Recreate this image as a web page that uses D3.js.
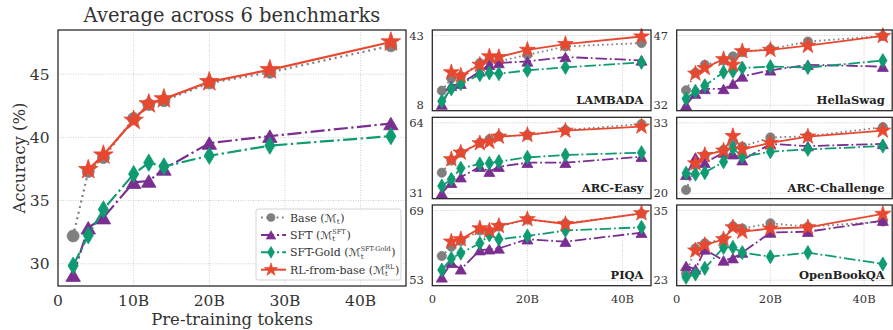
<!DOCTYPE html>
<html>
<head>
<meta charset="utf-8">
<script src="https://cdn.jsdelivr.net/npm/d3@7"></script>
<style>
  body { margin: 0; background: #fff; }
  svg { display: block; }
  text { font-family: "DejaVu Serif", serif; fill: #333; }
</style>
</head>
<body>
<svg id="chart" width="893" height="330"></svg>
<script>
// Pre-training tokens (billions) at each checkpoint
const tokens = [2, 4, 6, 10, 12, 14, 20, 28, 44];

// Average accuracy across the 6 benchmarks
const avgBase = [32.2, 37.3, 38.4, 41.5, 42.6, 42.9, 44.3, 45.15, 47.25];
const avgSft  = [29.1, 32.85, 33.65, 36.45, 36.55, 37.5, 39.55, 40.1, 41.1];
const avgGold = [29.85, 32.25, 34.3, 37.1, 38.0, 37.7, 38.55, 39.35, 40.1];
const avgRl   = [null, 37.45, 38.6, 41.35, 42.65, 43.05, 44.4, 45.35, 47.55];

// LAMBADA
const lambadaBase = [15.3, 21.5, 22.5, 29.2, 30.8, 30.0, 33.3, 37.5, 39.2];
const lambadaSft  = [8.3, 17.8, 18.8, 25.0, 28.3, 29.2, 30.0, 32.2, 30.5];
const lambadaGold = [10.0, 16.2, 18.8, 23.3, 24.2, 23.8, 25.5, 27.0, 29.5];
const lambadaRl   = [null, 24.5, 22.8, 28.3, 32.5, 32.2, 35.8, 38.7, 42.5];

// HellaSwag
const hellaBase = [35.2, 39.0, 40.7, 41.6, 42.5, 43.4, 44.1, 45.7, 46.9];
const hellaSft  = [32.0, 34.5, 35.5, 35.5, 36.6, 38.2, 39.5, 40.7, 40.3];
const hellaGold = [33.4, 35.0, 36.2, 39.1, 39.3, 40.0, 40.3, 40.1, 41.6];
const hellaRl   = [null, 38.8, 40.0, 41.9, 40.7, 43.6, 43.9, 44.8, 46.9];

// ARC-Easy
const arcEasyBase = [40.6, 46.3, 50.0, 54.7, 56.3, 57.6, 58.3, 60.6, 63.4];
const arcEasySft  = [31.0, 35.9, 38.5, 43.4, 41.1, 43.4, 45.3, 45.3, 48.1];
const arcEasyGold = [34.4, 37.5, 42.7, 44.7, 45.0, 45.8, 47.8, 48.9, 50.0];
const arcEasyRl   = [null, 46.9, 50.0, 54.4, 55.1, 57.5, 58.3, 60.3, 62.2];

// ARC-Challenge
const arcChalBase = [20.6, 25.2, 27.0, 28.0, 29.5, 28.6, 30.3, 30.5, 32.2];
const arcChalSft  = [23.4, 26.6, 25.6, 27.5, 27.2, 26.1, 29.1, 28.7, 29.1];
const arcChalGold = [23.7, 23.5, 23.8, 25.8, 28.3, 26.75, 27.65, 28.1, 28.7];
const arcChalRl   = [null, 25.5, 27.05, 27.85, 30.55, 28.1, 29.3, 30.45, 31.55];

// PIQA
const piqaBase = [58.55, 60.7, 62.0, 64.4, 64.2, 65.3, 66.9, 66.05, 68.3];
const piqaSft  = [53.65, 57.0, 55.5, 59.9, 60.1, 60.3, 62.4, 61.85, 63.9];
const piqaGold = [55.35, 58.0, 59.2, 61.5, 63.4, 62.4, 63.15, 64.4, 65.15];
const piqaRl   = [null, 61.85, 62.4, 64.9, 64.4, 65.45, 67.0, 65.9, 68.35];

// OpenBookQA
const obqaBase = [24.1, 28.5, 29.35, 30.1, 32.3, 31.9, 32.8, 32.2, 33.1];
const obqaSft  = [25.45, 24.9, 28.3, 26.4, 26.8, 27.75, 31.2, 31.35, 33.25];
const obqaGold = [23.5, 24.05, 25.05, 28.65, 28.65, 27.75, 27.05, 27.75, 25.8];
const obqaRl   = [null, 28.1, 29.05, 30.05, 32.1, 31.35, 31.9, 32.1, 34.4];

// Benchmark panels: name, y-tick labels (min / max)
const benchNames = ["LAMBADA", "HellaSwag", "ARC-Easy", "ARC-Challenge", "PIQA", "OpenBookQA"];
const benchTicks = [[8, 43], [32, 47], [31, 64], [20, 33], [53, 69], [23, 35]];
const benchSeries = [
  [lambadaBase, lambadaSft, lambadaGold, lambadaRl],
  [hellaBase, hellaSft, hellaGold, hellaRl],
  [arcEasyBase, arcEasySft, arcEasyGold, arcEasyRl],
  [arcChalBase, arcChalSft, arcChalGold, arcChalRl],
  [piqaBase, piqaSft, piqaGold, piqaRl],
  [obqaBase, obqaSft, obqaGold, obqaRl]
];

// Axis tick labels
const mainXTicks = [0, 10, 20, 30, 40];
const mainYTicks = [30, 35, 40, 45];
const smallXTicks = [0, 20, 40];

// Series styling (order: Base, SFT, SFT-Gold, RL-from-base)
const seriesKeys = ["base", "sft", "gold", "rl"];
const styles = {
  base: { color: "#7f7f7f", dash: "dot",     marker: "circle" },
  sft:  { color: "#7a2e91", dash: "dashdot", marker: "triangle" },
  gold: { color: "#0f9b72", dash: "dashdot", marker: "diamond" },
  rl:   { color: "#e8482f", dash: "solid",   marker: "star" }
};

function dashArray(kind, lw) {
  if (kind === "dot") return `${lw * 0.9},${lw * 1.7}`;
  if (kind === "dashdot") return `${lw * 6.4},${lw * 1.6},${lw * 1},${lw * 1.6}`;
  return null;
}

// Marker path centred on the origin; s = nominal radius in px
function markerPath(kind, s) {
  if (kind === "circle") return d3.symbol(d3.symbolCircle, Math.PI * s * s)();
  if (kind === "star") return d3.symbol(d3.symbolStar, (s * s) / 0.89081309152928522810)();
  if (kind === "triangle") {
    const h = s * 1.9, w = s * 1.1;
    return `M0,${-h / 2}L${w},${h / 2}L${-w},${h / 2}Z`;
  }
  if (kind === "diamond") {
    const h = s * 1.35, w = s * 0.8;
    return `M0,${-h}L${w},0L0,${h}L${-w},0Z`;
  }
}

const svg = d3.select("#chart");

// Draws one axes box with its grid, series and tick labels
function drawPanel(cfg) {
  const { x0, y0, w, h, xScale, yScale, xTicks, yTicks, xFmt, series, lw, msize, tickFont, showX } = cfg;
  const g = svg.append("g");

  // grid
  g.selectAll("line.gy").data(yTicks).join("line")
    .attr("x1", x0).attr("x2", x0 + w)
    .attr("y1", d => yScale(d)).attr("y2", d => yScale(d))
    .attr("stroke", "#c8c8c8").attr("stroke-width", 0.9).attr("stroke-dasharray", "1,1.5");
  g.selectAll("line.gx").data(xTicks.filter(d => d > 0)).join("line")
    .attr("y1", y0).attr("y2", y0 + h)
    .attr("x1", d => xScale(d)).attr("x2", d => xScale(d))
    .attr("stroke", "#c8c8c8").attr("stroke-width", 0.9).attr("stroke-dasharray", "1,1.5");

  // series lines and markers
  series.forEach((vals, i) => {
    const st = styles[seriesKeys[i]];
    const pts = tokens.map((t, j) => [t, vals[j]]).filter(p => p[1] != null);
    const line = d3.line().x(p => xScale(p[0])).y(p => yScale(p[1]));
    g.append("path").attr("d", line(pts))
      .attr("fill", "none").attr("stroke", st.color).attr("stroke-width", lw)
      .attr("stroke-dasharray", dashArray(st.dash, lw))
      .attr("stroke-linejoin", "round");
    g.selectAll(null).data(pts).join("path")
      .attr("transform", p => `translate(${xScale(p[0])},${yScale(p[1])})`)
      .attr("d", markerPath(st.marker, msize[st.marker]))
      .attr("fill", st.color).attr("stroke", st.color).attr("stroke-width", 0.8);
  });

  // frame
  g.append("rect").attr("x", x0).attr("y", y0).attr("width", w).attr("height", h)
    .attr("fill", "none").attr("stroke", "#222").attr("stroke-width", 1.25);

  // y tick labels
  g.selectAll("text.yt").data(yTicks).join("text")
    .attr("x", x0 - 8.5).attr("y", d => yScale(d))
    .attr("dy", "0.36em").attr("text-anchor", "end")
    .style("font-size", tickFont + "px").text(d => d);

  if (showX) {
    g.selectAll("text.xt").data(xTicks).join("text")
      .attr("x", d => xScale(d)).attr("y", cfg.xLabelY)
      .attr("text-anchor", "middle")
      .style("font-size", tickFont + "px").text(xFmt);
  }
  return g;
}

const fmtB = d => d === 0 ? "0" : d + "B";

// ---- main averaged chart ----
const M = { x0: 58, y0: 30, w: 348, h: 256 };
const mx = d3.scaleLinear().domain([0, 46]).range([M.x0, M.x0 + M.w]);
const my = d3.scaleLinear().domain([28.24, 48.5]).range([M.y0 + M.h, M.y0]);
drawPanel({
  ...M, xScale: mx, yScale: my, xTicks: mainXTicks, yTicks: mainYTicks, xFmt: fmtB,
  series: [avgBase, avgSft, avgGold, avgRl], lw: 2.2,
  msize: { circle: 6, triangle: 6.6, diamond: 6.4, star: 10.3 },
  tickFont: 15.5, showX: true, xLabelY: 305.5
});

svg.append("text").attr("x", 232).attr("y", 21.5).attr("text-anchor", "middle")
  .style("font-size", "19.5px").text("Average across 6 benchmarks");
svg.append("text").attr("x", 232).attr("y", 325).attr("text-anchor", "middle")
  .style("font-size", "16.5px").text("Pre-training tokens");
svg.append("text").attr("transform", "translate(24.5,158) rotate(-90)").attr("text-anchor", "middle")
  .style("font-size", "16.5px").text("Accuracy (%)");

// ---- legend ----
const legendItems = [
  { key: "base", name: "Base (", sup: null },
  { key: "sft",  name: "SFT (", sup: "SFT" },
  { key: "gold", name: "SFT-Gold (", sup: "SFT-Gold" },
  { key: "rl",   name: "RL-from-base (", sup: "RL" }
];
const lg = svg.append("g");
lg.append("rect").attr("x", 256).attr("y", 209).attr("width", 145).attr("height", 71)
  .attr("rx", 2).attr("fill", "#fff").attr("fill-opacity", 0.85)
  .attr("stroke", "#cfcfcf").attr("stroke-width", 0.9);
legendItems.forEach((it, i) => {
  const st = styles[it.key];
  const cy = 217.5 + i * 17.4;
  lg.append("line").attr("x1", 261).attr("x2", 286).attr("y1", cy).attr("y2", cy)
    .attr("stroke", st.color).attr("stroke-width", 2)
    .attr("stroke-dasharray", dashArray(st.dash, 2));
  lg.append("path").attr("transform", `translate(271,${cy})`)
    .attr("d", markerPath(st.marker, { circle: 4, triangle: 4.4, diamond: 4.4, star: 7 }[st.marker]))
    .attr("fill", st.color).attr("stroke", st.color).attr("stroke-width", 0.6);
  const t = lg.append("text").attr("x", 290).attr("y", cy + 4).style("font-size", "11px");
  t.append("tspan").text(it.name);
  t.append("tspan").style("font-family", "'DejaVu Sans', sans-serif").text("ℳ");
  const end = 290 + t.node().getComputedTextLength();
  const sub = lg.append("text").attr("x", end + 0.3).attr("y", cy + 6.5).style("font-size", "7px").text("t");
  let extra = sub.node().getComputedTextLength();
  if (it.sup) {
    const sp = lg.append("text").attr("x", end + 0.3).attr("y", cy - 1).style("font-size", "6.5px").text(it.sup);
    extra = Math.max(extra, sp.node().getComputedTextLength());
  }
  lg.append("text").attr("x", end + extra + 1).attr("y", cy + 4).style("font-size", "11px").text(")");
});

// ---- per-benchmark panels (3 rows x 2 columns) ----
const cols = [{ x0: 432.3, w: 218.7 }, { x0: 676.7, w: 215.5 }];
const rows = [{ y0: 30, h: 80.7 }, { y0: 117.3, h: 81.4 }, { y0: 205, h: 80.7 }];
benchNames.forEach((name, k) => {
  const c = cols[k % 2], r = rows[Math.floor(k / 2)];
  const xs = d3.scaleLinear().domain([0, 46]).range([c.x0, c.x0 + c.w]);
  const [lo, hi] = benchTicks[k];
  const ys = d3.scaleLinear().domain([lo, hi]).range([r.y0 + r.h - 5.5, r.y0 + 5.5]);
  const g = drawPanel({
    x0: c.x0, y0: r.y0, w: c.w, h: r.h, xScale: xs, yScale: ys,
    xTicks: smallXTicks, yTicks: [lo, hi], xFmt: fmtB,
    series: benchSeries[k], lw: 1.8,
    msize: { circle: 4.6, triangle: 5, diamond: 5.2, star: 8.3 },
    tickFont: 11.5, showX: r === rows[2], xLabelY: 302.5
  });
  g.append("text").attr("x", c.x0 + c.w - 7.5).attr("y", r.y0 + r.h - 6.5)
    .attr("text-anchor", "end").style("font-size", "11.5px").style("font-weight", "bold")
    .style("fill", "#222").text(name);
});
</script>
</body>
</html>
